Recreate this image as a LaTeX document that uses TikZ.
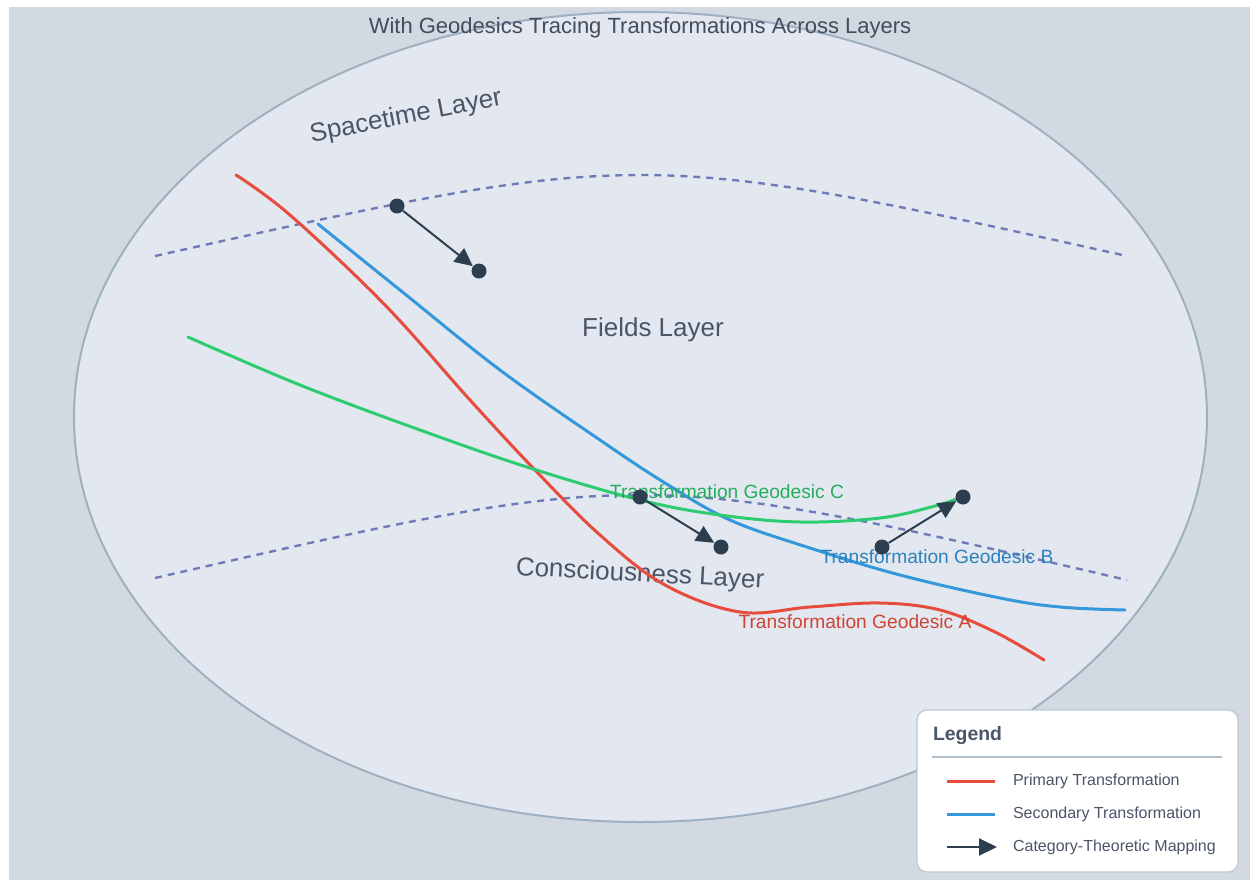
\documentclass[tikz,border=0pt]{standalone}
\usepackage{fontspec}
\setmainfont{Liberation Sans}
\usetikzlibrary{arrows.meta}

\definecolor{bggray}{HTML}{D2D9E1}
\definecolor{shellfill}{HTML}{E3E8F0}
\definecolor{shelldraw}{HTML}{9FB0C2}
\definecolor{layerdash}{HTML}{6F7BB8}
\definecolor{geored}{HTML}{E74C3C}
\definecolor{geoblue}{HTML}{3498DB}
\definecolor{geogreen}{HTML}{2ECC71}
\definecolor{mapdark}{HTML}{2C3E50}
\definecolor{labeltext}{HTML}{4A5568}

\tikzset{
  layerline/.style={layerdash, line width=1.2pt, dash pattern=on 3.5pt off 3pt},
  geodesic/.style={line width=1.5pt, line cap=round},
  layerlabel/.style={text=labeltext, font=\fontsize{13}{15}\selectfont},
  geolabel/.style={font=\fontsize{9.6}{11}\selectfont},
  mapdot/.style={circle, fill=mapdark, minimum size=7.5pt, inner sep=0pt},
  mapping/.style={mapdark, line width=1pt, -{Triangle[length=9pt,width=8.5pt]}},
  legendtext/.style={anchor=west, text=labeltext, font=\fontsize{8}{10}\selectfont},
}

\begin{document}
\begin{tikzpicture}[x=0.5pt,y=-0.5pt]
	\useasboundingbox (0,0) rectangle (1250,880);
	% Hintergrund
	\fill[white] (0,0) rectangle (1250,880);
	\fill[bggray] (9,7) rectangle (1250,880);
	% Mannigfaltigkeit
	\filldraw[fill=shellfill, draw=shelldraw, line width=1pt] (640.5,417) ellipse [x radius=566.5, y radius=405];
	% Titel
	\node[text=labeltext!90!black, font=\fontsize{11}{13}\selectfont] (title) at (640,28) {With Geodesics Tracing Transformations Across Layers};
	% Schichtgrenzen
	\draw[layerline] (155,256) .. controls (640,148) .. (1127,256);
	\draw[layerline] (155,578) .. controls (640,467) .. (1127,580);
	% Schichtnamen
	\node[layerlabel, rotate=11] (spacetime) at (406,117) {Spacetime Layer};
	\node[layerlabel] (fields) at (653,330) {Fields Layer};
	\node[layerlabel, rotate=-3] (conscious) at (640,575) {Consciousness Layer};
	% Geodaeten
	\draw[geodesic, geored] plot[smooth, tension=0.6] coordinates {(236,175) (290,215) (385,305) (470,400) (535,470) (600,535) (665,585) (740,612) (810,607) (880,603) (940,610) (995,632) (1044,660)};
	\draw[geodesic, geoblue] plot[smooth, tension=0.6] coordinates {(318,224) (400,290) (500,370) (600,440) (665,483) (730,520) (810,548) (900,575) (1000,598) (1060,607) (1125,610)};
	\draw[geodesic, geogreen] plot[smooth, tension=0.6] coordinates {(188,337) (300,385) (420,430) (530,468) (640,500) (720,515) (800,522) (880,518) (935,506) (962,497)};
	\node[geolabel, text=geogreen!85!black] (labelC) at (727,492) {Transformation Geodesic C};
	\node[geolabel, text=geoblue!85!black] (labelB) at (937,557) {Transformation Geodesic B};
	\node[geolabel, text=geored!90!black] (labelA) at (855,622) {Transformation Geodesic A};
	% Abbildungen
	\node[mapdot] (m1) at (397,206) {};
	\node[mapdot] (m1t) at (479,271) {};
	\node[mapdot] (m2) at (640,497) {};
	\node[mapdot] (m2t) at (721,547) {};
	\node[mapdot] (m3) at (882,547) {};
	\node[mapdot] (m3t) at (963,497) {};
	\draw[mapping] (m1) -- (m1t);
	\draw[mapping] (m2) -- (m2t);
	\draw[mapping] (m3) -- (m3t);
	% Legende
	\filldraw[fill=white, draw=shelldraw!70, line width=0.6pt, rounded corners=5pt] (917,710) rectangle (1238,872);
	\node[anchor=west, text=labeltext, font=\bfseries\fontsize{9.7}{11}\selectfont] (legend) at (926,736) {Legend};
	\draw[shelldraw!80, line width=0.6pt] (932,757) -- (1222,757);
	\coordinate (lp1) at (947,781); \coordinate (lp2) at (995,781);
	\coordinate (ls1) at (947,814); \coordinate (ls2) at (995,814);
	\coordinate (lm1) at (947,847); \coordinate (lm2) at (997,847);
	\draw[geodesic, geored, line cap=butt] (lp1) -- (lp2);
	\draw[geodesic, geoblue, line cap=butt] (ls1) -- (ls2);
	\draw[mapping] (lm1) -- (lm2);
	\node[legendtext] (lprimary) at (1006,781) {Primary Transformation};
	\node[legendtext] (lsecondary) at (1006,814) {Secondary Transformation};
	\node[legendtext] (lmapping) at (1006,847) {Category-Theoretic Mapping};
\end{tikzpicture}
\end{document}
